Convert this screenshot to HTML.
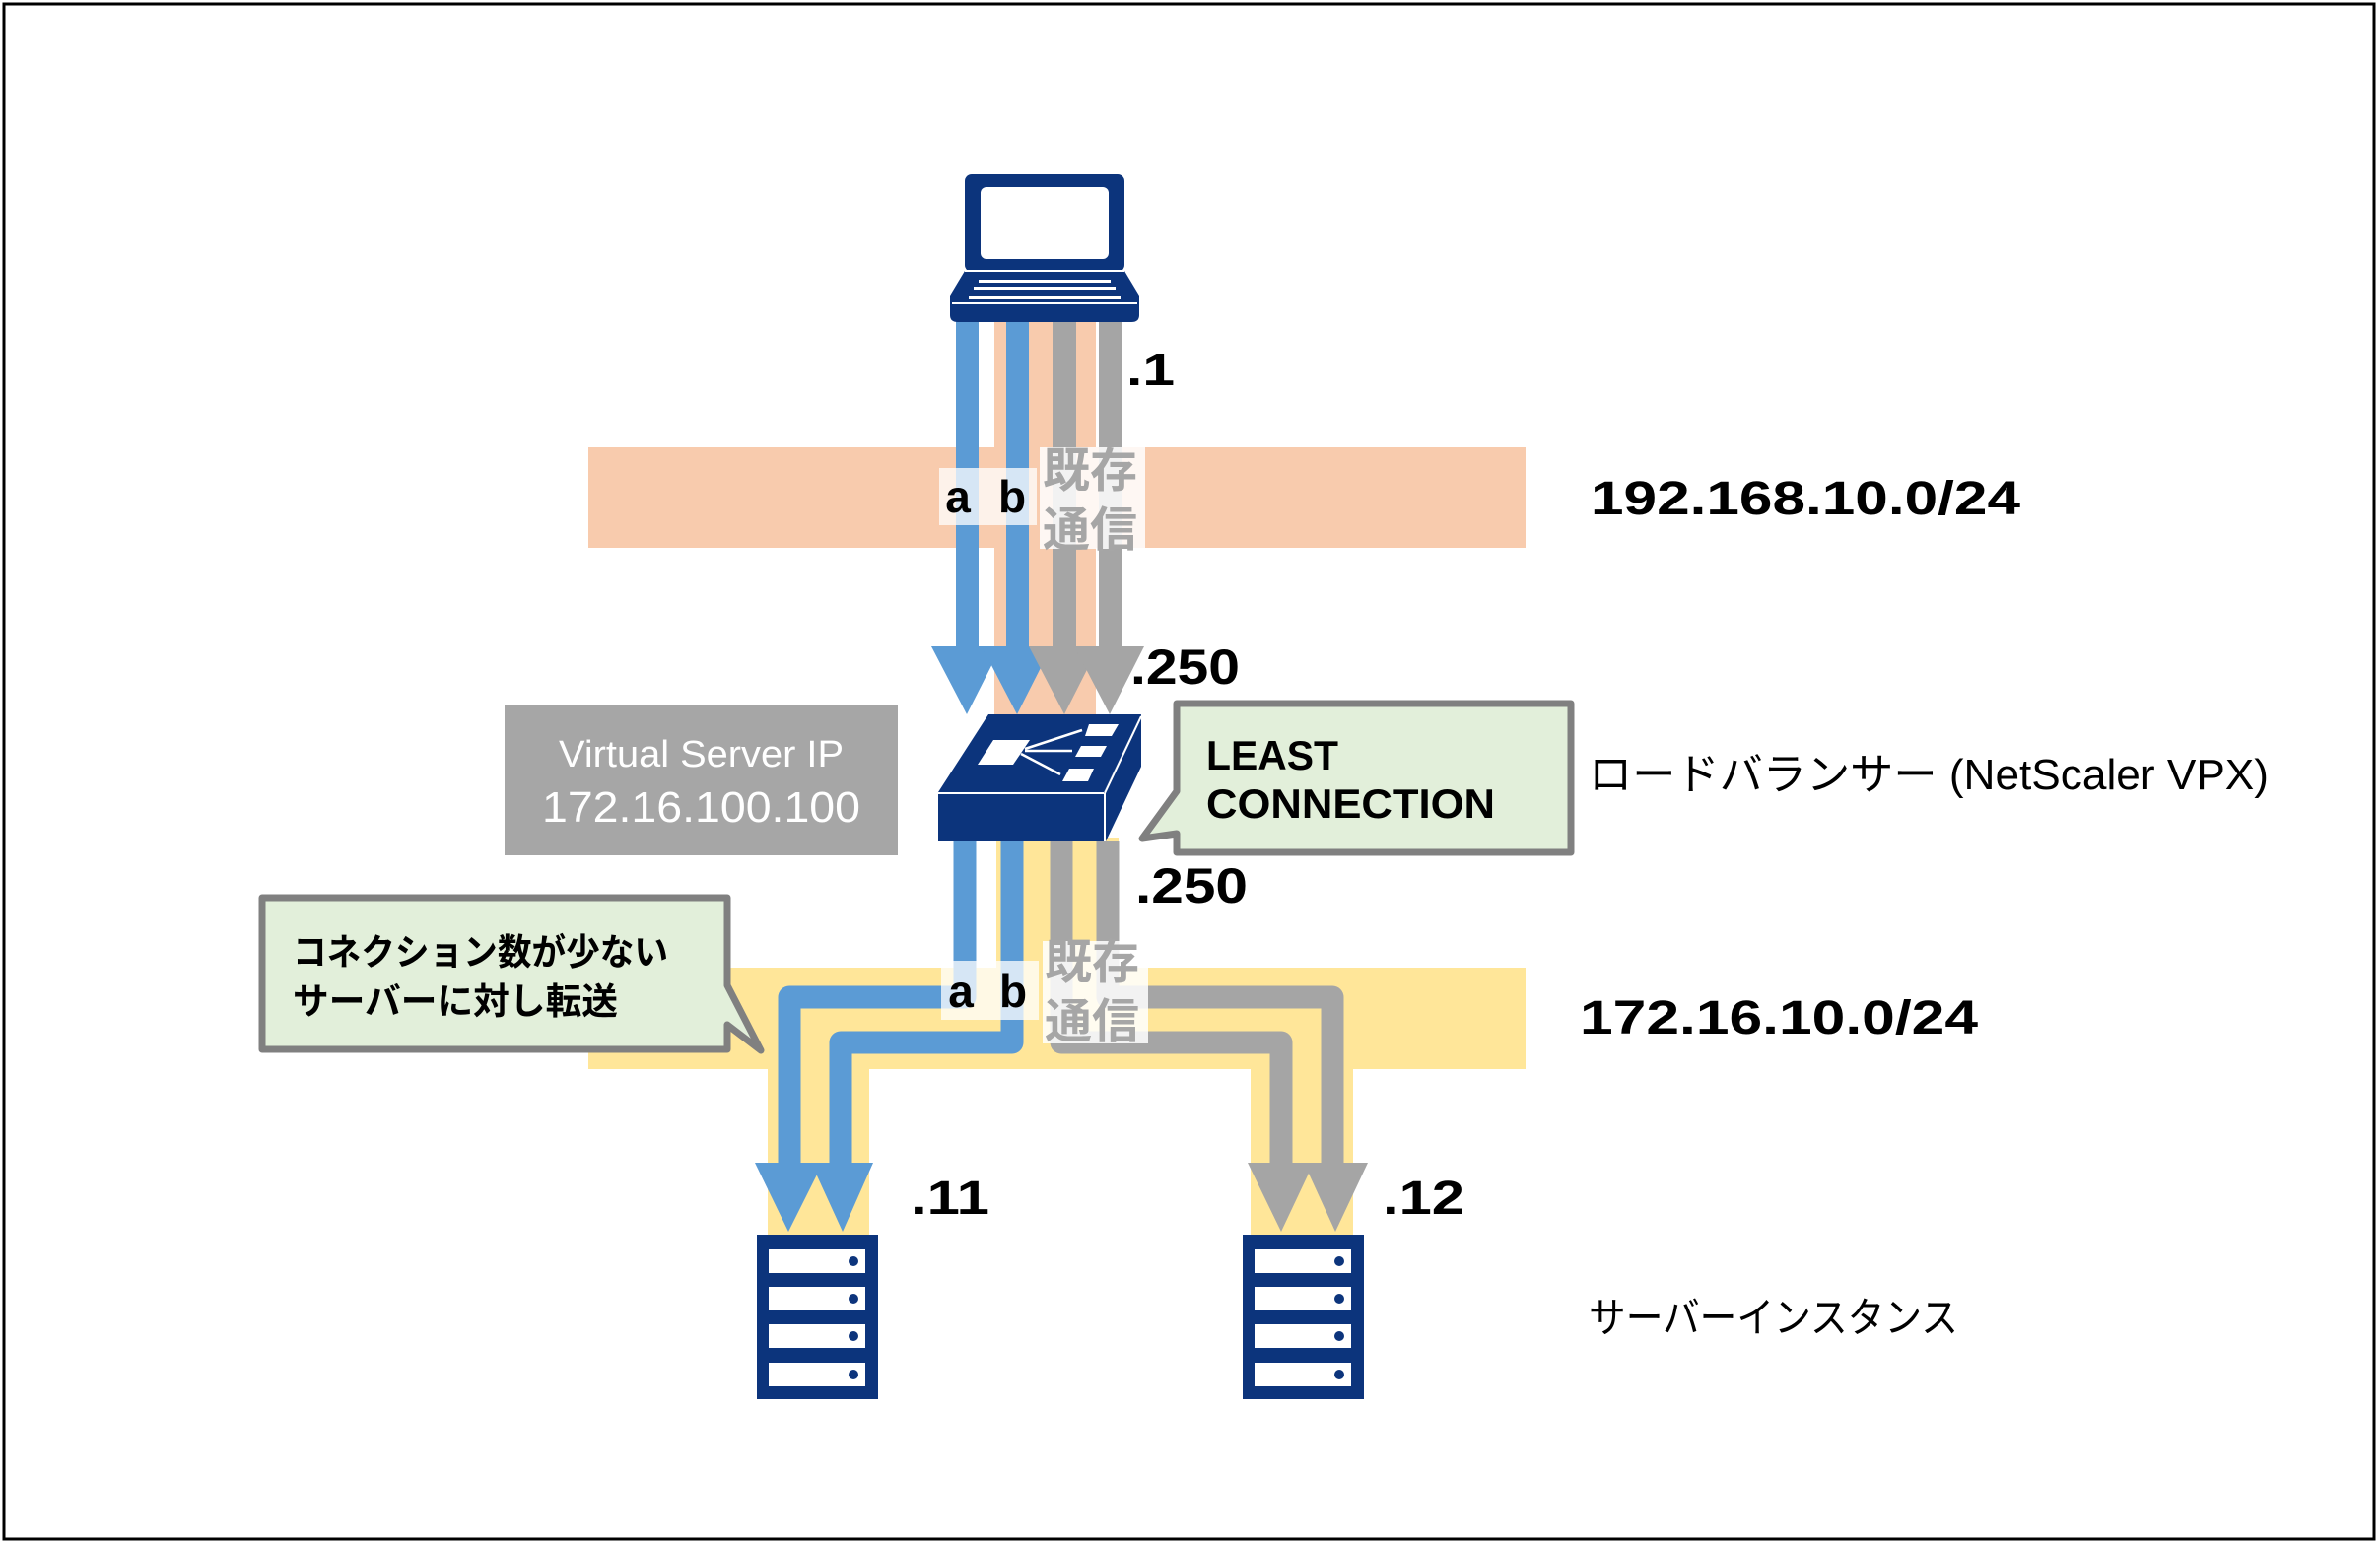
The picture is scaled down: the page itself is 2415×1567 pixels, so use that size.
<!DOCTYPE html>
<html><head><meta charset="utf-8"><style>
html,body{margin:0;padding:0;background:#fff}
svg{display:block}
text{font-family:"Liberation Sans","Noto Sans CJK JP",sans-serif}
</style></head><body>
<svg width="2415" height="1567" viewBox="0 0 2415 1567" xmlns="http://www.w3.org/2000/svg">
<rect x="4" y="4" width="2405" height="1558" fill="#fff" stroke="#000" stroke-width="3"/>
<!-- bands -->
<rect x="597" y="454" width="951" height="102" fill="#f8cbad"/>
<rect x="597" y="982" width="951" height="103" fill="#ffe699"/>
<!-- peach column -->
<rect x="1009" y="327" width="103" height="406" fill="#f8cbad"/>
<!-- yellow columns -->
<rect x="1011" y="850" width="124" height="140" fill="#ffe699"/>
<rect x="779" y="1080" width="103" height="178" fill="#ffe699"/>
<rect x="1269" y="1080" width="104" height="178" fill="#ffe699"/>
<!-- upper arrows -->
<g>
<rect x="970" y="320" width="23" height="340" fill="#5b9bd5"/>
<polygon points="945,656 1016,656 981,725" fill="#5b9bd5"/>
<rect x="1021" y="320" width="23" height="340" fill="#5b9bd5"/>
<polygon points="996,656 1067,656 1032,725" fill="#5b9bd5"/>
<rect x="1068" y="320" width="24" height="340" fill="#a5a5a5"/>
<polygon points="1044,656 1115,656 1080,725" fill="#a5a5a5"/>
<rect x="1115" y="320" width="23" height="340" fill="#a5a5a5"/>
<polygon points="1090,656 1161,656 1126,725" fill="#a5a5a5"/>
</g>
<!-- laptop -->
<rect x="979" y="177" width="162" height="99" rx="7" fill="#0c347c"/>
<rect x="995" y="190" width="130" height="73" rx="6" fill="#fff"/>
<path d="M979,275 L1141,275 L1156,300 L1156,320 Q1156,327 1148,327 L972,327 Q964,327 964,320 L964,300 Z" fill="#0c347c"/>
<line x1="979" y1="275" x2="1141" y2="275" stroke="#fff" stroke-width="2"/>
<rect x="993" y="284" width="134" height="3" fill="#fff"/>
<rect x="988" y="291" width="144" height="3" fill="#fff"/>
<rect x="983" y="300" width="154" height="3" fill="#fff"/>
<line x1="966" y1="308" x2="1154" y2="308" stroke="#fff" stroke-width="2"/>
<!-- upper labels -->
<rect x="953" y="475" width="99" height="58" fill="#fff" opacity="0.75"/>
<text x="972" y="520" font-size="46" font-weight="bold" text-anchor="middle">a</text>
<text x="1027" y="520" font-size="46" font-weight="bold" text-anchor="middle">b</text>
<rect x="1055" y="454" width="107" height="103" fill="#fff" opacity="0.85"/>
<text x="1058" y="494" font-size="48" font-weight="bold" fill="#a6a6a6" textLength="96" lengthAdjust="spacingAndGlyphs">既存</text>
<text x="1058" y="554" font-size="48" font-weight="bold" fill="#a6a6a6" textLength="96" lengthAdjust="spacingAndGlyphs">通信</text>
<text x="1143" y="391" font-size="46" font-weight="bold" textLength="49" lengthAdjust="spacingAndGlyphs">.1</text>
<text x="1147" y="694" font-size="50" font-weight="bold" textLength="111" lengthAdjust="spacingAndGlyphs">.250</text>
<!-- lower arrows -->
<g fill="none" stroke-width="23" stroke-linejoin="round">
<path d="M979,854 L979,1012 L801,1012 L801,1185" stroke="#5b9bd5"/>
<path d="M1027,854 L1027,1058 L853,1058 L853,1185" stroke="#5b9bd5"/>
<path d="M1077,854 L1077,1058 L1300,1058 L1300,1185" stroke="#a5a5a5"/>
<path d="M1124,854 L1124,1012 L1352,1012 L1352,1185" stroke="#a5a5a5"/>
</g>
<polygon points="766,1180 835,1180 800,1250" fill="#5b9bd5"/>
<polygon points="823,1180 886,1180 855,1250" fill="#5b9bd5"/>
<polygon points="1266,1180 1333,1180 1300,1250" fill="#a5a5a5"/>
<polygon points="1323,1180 1388,1180 1355,1250" fill="#a5a5a5"/>
<rect x="955" y="975" width="99" height="60" fill="#fff" opacity="0.75"/>
<text x="975" y="1022" font-size="46" font-weight="bold" text-anchor="middle">a</text>
<text x="1028" y="1022" font-size="46" font-weight="bold" text-anchor="middle">b</text>
<rect x="1058" y="955" width="107" height="104" fill="#fff" opacity="0.85"/>
<text x="1060" y="993" font-size="48" font-weight="bold" fill="#a6a6a6" textLength="96" lengthAdjust="spacingAndGlyphs">既存</text>
<text x="1060" y="1053" font-size="48" font-weight="bold" fill="#a6a6a6" textLength="96" lengthAdjust="spacingAndGlyphs">通信</text>
<text x="1152" y="916" font-size="50" font-weight="bold" textLength="114" lengthAdjust="spacingAndGlyphs">.250</text>
<!-- switch -->
<polygon points="952,804 1003,725 1158,725 1120,804" fill="#0c347c"/>
<rect x="952" y="804" width="168" height="50" fill="#0c347c"/>
<polygon points="1120,804 1158,725 1158,778 1122,854" fill="#0c347c"/>
<line x1="952" y1="805" x2="1120" y2="805" stroke="#fff" stroke-width="2"/>
<line x1="1121" y1="805" x2="1158" y2="727" stroke="#fff" stroke-width="2"/>
<line x1="1121" y1="805" x2="1121" y2="854" stroke="#fff" stroke-width="2"/>
<polygon points="992,776 1008,751 1045,751 1028,776" fill="#fff"/>
<polygon points="1105,735 1135,735 1128,747 1101,747" fill="#fff"/>
<polygon points="1097,757 1123,757 1117,768 1091,768" fill="#fff"/>
<polygon points="1085,780 1110,780 1104,793 1078,793" fill="#fff"/>
<g stroke="#fff" stroke-width="2.5"><line x1="1040" y1="760" x2="1098" y2="741"/><line x1="1040" y1="762" x2="1088" y2="762"/><line x1="1036" y1="765" x2="1076" y2="786"/></g>
<!-- VIP box -->
<rect x="512" y="716" width="399" height="152" fill="#a6a6a6"/>
<text x="567" y="778" font-size="38" fill="#fff" textLength="289" lengthAdjust="spacingAndGlyphs">Virtual Server IP</text>
<text x="550" y="834" font-size="44" fill="#fff" textLength="323" lengthAdjust="spacingAndGlyphs">172.16.100.100</text>
<!-- LEAST CONNECTION callout -->
<path d="M1194,714 L1594,714 L1594,865 L1194,865 L1194,846 L1159,851 L1194,803 Z" fill="#e2efda" stroke="#808080" stroke-width="7" stroke-linejoin="round"/>
<text x="1224" y="781" font-size="42" font-weight="bold" textLength="134" lengthAdjust="spacingAndGlyphs">LEAST</text>
<text x="1224" y="830" font-size="42" font-weight="bold" textLength="293" lengthAdjust="spacingAndGlyphs">CONNECTION</text>
<!-- left callout -->
<path d="M266,911 L738,911 L738,1000 L772,1066 L738,1040 L738,1065 L266,1065 Z" fill="#e2efda" stroke="#808080" stroke-width="7" stroke-linejoin="round"/>
<text x="297" y="979" font-size="37" font-weight="bold" textLength="381" lengthAdjust="spacingAndGlyphs">コネクション数が少ない</text>
<text x="297" y="1029" font-size="37" font-weight="bold" textLength="330" lengthAdjust="spacingAndGlyphs">サーバーに対し転送</text>
<!-- servers -->
<g>
<rect x="768" y="1253" width="123" height="167" fill="#0c347c"/>
<rect x="780" y="1268" width="98" height="24" fill="#fff"/><rect x="780" y="1306" width="98" height="24" fill="#fff"/><rect x="780" y="1344" width="98" height="24" fill="#fff"/><rect x="780" y="1383" width="98" height="24" fill="#fff"/>
<circle cx="866" cy="1280" r="5" fill="#0c347c"/><circle cx="866" cy="1318" r="5" fill="#0c347c"/><circle cx="866" cy="1356" r="5" fill="#0c347c"/><circle cx="866" cy="1395" r="5" fill="#0c347c"/>
</g>
<g transform="translate(493,0)">
<rect x="768" y="1253" width="123" height="167" fill="#0c347c"/>
<rect x="780" y="1268" width="98" height="24" fill="#fff"/><rect x="780" y="1306" width="98" height="24" fill="#fff"/><rect x="780" y="1344" width="98" height="24" fill="#fff"/><rect x="780" y="1383" width="98" height="24" fill="#fff"/>
<circle cx="866" cy="1280" r="5" fill="#0c347c"/><circle cx="866" cy="1318" r="5" fill="#0c347c"/><circle cx="866" cy="1356" r="5" fill="#0c347c"/><circle cx="866" cy="1395" r="5" fill="#0c347c"/>
</g>
<text x="924" y="1232" font-size="48" font-weight="bold" textLength="80" lengthAdjust="spacingAndGlyphs">.11</text>
<text x="1403" y="1232" font-size="48" font-weight="bold" textLength="83" lengthAdjust="spacingAndGlyphs">.12</text>
<!-- right labels -->
<text x="1614" y="522" font-size="48" font-weight="bold" textLength="436" lengthAdjust="spacingAndGlyphs">192.168.10.0/24</text>
<text x="1603" y="1049" font-size="48" font-weight="bold" textLength="404" lengthAdjust="spacingAndGlyphs">172.16.10.0/24</text>
<text x="1612" y="801" font-size="44" textLength="690" lengthAdjust="spacingAndGlyphs">ロードバランサー (NetScaler VPX)</text>
<text x="1612" y="1352" font-size="42" textLength="375" lengthAdjust="spacingAndGlyphs">サーバーインスタンス</text>
</svg>
</body></html>
